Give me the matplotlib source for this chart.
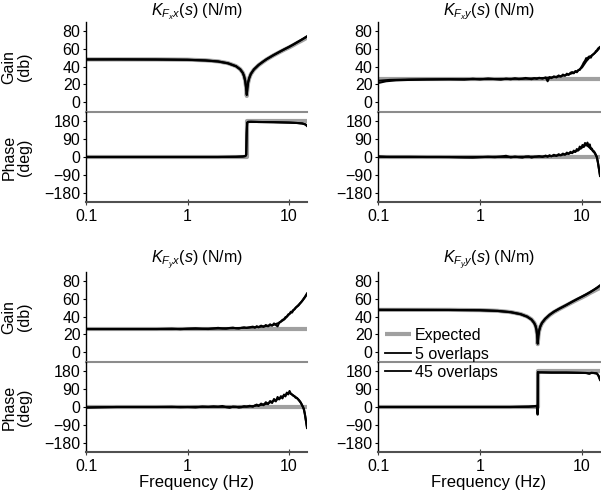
import matplotlib.pyplot as plt
from matplotlib.lines import Line2D
from matplotlib.ticker import NullLocator

plt.rcParams['font.family'] = ['Liberation Sans', 'DejaVu Sans']
plt.rcParams['mathtext.fontset'] = 'custom'
plt.rcParams['mathtext.rm'] = 'Liberation Sans'
plt.rcParams['mathtext.it'] = 'Liberation Sans:italic'
plt.rcParams['font.size'] = 11.5

# ---- K_FxFx : notch near 3.8 Hz ----
f_xx = [0.1, 0.2, 0.5, 1.0, 1.5, 2.0, 2.5, 3.0, 3.3, 3.5, 3.6, 3.7, 3.77, 3.83, 3.88,
        3.95, 4.05, 4.2, 4.5, 5.0, 5.5, 6.0, 7.0, 8.0, 9.0, 10.0, 11.0, 12.0, 13.0, 14.0, 15.0]
gain_xx_exp = [48, 48, 48, 47.7, 47, 45.8, 43.8, 40.5, 37, 33, 29.5, 24, 17, 7, 15,
               22, 27, 31.5, 36.5, 41.5, 45, 48, 52.5, 56, 59, 61.5, 64, 66.5, 68.5, 70.5, 72.5]
gain_xx_5 = [48, 48.1, 47.9, 47.6, 46.8, 45.7, 43.6, 40.3, 36.8, 32.8, 29.2, 23.5, 16, 8, 16,
             22.5, 27.2, 31.8, 36.8, 41.8, 45.3, 48.3, 52.8, 56.4, 59.5, 62.2, 64.8, 67.3, 69.6, 71.8, 74]
gain_xx_45 = [48, 48, 47.9, 47.6, 46.9, 45.7, 43.7, 40.4, 36.9, 32.9, 29.3, 23.7, 16.5, 9, 15.5,
              22.3, 27.1, 31.7, 36.7, 41.7, 45.2, 48.2, 52.7, 56.3, 59.4, 62, 64.6, 67.1, 69.4, 71.6, 73.6]
fp_xx = [0.1, 1.0, 2.0, 3.0, 3.5, 3.7, 3.78, 3.82, 3.86, 3.95, 4.2, 5.0, 7.0, 10.0, 12.0, 13.5, 14.5, 15.0]
phase_xx_5 = [0, 0, 0, 1, 3, 5, 12, 120, 172, 176, 176, 175, 174, 172, 170, 168, 162, 155]
phase_xx_45 = [0, 0, 0, 1, 2, 4, 10, 110, 170, 175, 176, 175, 174, 172, 170, 167, 163, 157]
fp_xx_exp = [0.1, 3.83, 3.83, 15.0]
phase_xx_exp = [0, 0, 180, 180]

# ---- K_FyFy : notch near 3.7 Hz ----
f_yy = [0.1, 0.2, 0.5, 1.0, 1.5, 2.0, 2.5, 2.9, 3.2, 3.4, 3.5, 3.58, 3.63, 3.68, 3.73,
        3.8, 3.9, 4.05, 4.35, 4.8, 5.3, 6.0, 7.0, 8.0, 9.0, 10.0, 11.0, 12.0, 13.0, 14.0, 15.0]
gain_yy_exp = [47.5, 47.5, 47.5, 47.2, 46.4, 45.0, 42.8, 40, 36.8, 33, 30, 25.5, 20, 9, 18,
               24, 28.5, 32.5, 37, 41.5, 45, 48.5, 52.5, 56, 59, 61.5, 64, 66.5, 68.5, 70.5, 72]
gain_yy_5 = [47.6, 47.5, 47.4, 47.1, 46.3, 44.9, 42.6, 39.8, 36.5, 32.6, 29.5, 25, 19, 9.5, 18.5,
             24.5, 29, 33, 37.5, 42, 45.5, 49, 53, 56.7, 59.8, 62.5, 65, 67.5, 70, 72.5, 75]
gain_yy_45 = [47.5, 47.5, 47.4, 47.1, 46.3, 44.9, 42.7, 39.9, 36.6, 32.7, 29.6, 25.2, 19.5, 10, 18.2,
              24.3, 28.8, 32.8, 37.3, 41.8, 45.3, 48.8, 52.8, 56.5, 59.6, 62.3, 64.8, 67.2, 69.7, 72, 74.5]
fp_yy = [0.1, 1.0, 2.0, 3.0, 3.4, 3.6, 3.66, 3.68, 3.69, 3.71, 3.75, 4.0, 5.0, 7.0, 9.0,
         11.0, 11.8, 12.3, 13.0, 14.0, 14.5, 15.0]
phase_yy_5 = [0, 0, 0, 2, 4, 6, -38, -38, 175, 174, 173, 173, 172, 172, 171, 170, 166, 171, 170, 168, 155, 135]
phase_yy_45 = [0, 0, 0, 1, 3, 5, -30, -30, 172, 174, 173, 173, 172, 172, 171, 170, 168, 170, 170, 167, 157, 140]
fp_yy_exp = [0.1, 3.68, 3.68, 15.0]
phase_yy_exp = [0, 0, 180, 180]

# ---- cross terms (noisy) ----
f_noisy = [0.1, 0.12, 0.15, 0.2, 0.3, 0.5, 0.7, 0.85, 1.0, 1.2, 1.4, 1.6, 1.8, 2.0, 2.2, 2.4, 2.6,
           2.8, 3.0, 3.2, 3.4, 3.6, 3.8, 4.1, 4.4, 4.6, 4.8, 5.0, 5.3, 5.6, 5.9, 6.2, 6.5, 6.8,
           7.1, 7.4, 7.7, 8.0, 8.3, 8.6, 8.9, 9.2, 9.5, 9.8, 10.1, 10.4, 10.7, 11.0, 11.3, 11.6,
           11.9, 12.2, 12.5, 12.8, 13.1, 13.4, 13.7, 14.0, 14.3, 14.6, 15.0]
gain_xy_5 = [21.5, 23.5, 24.5, 25, 25.5, 25.8, 25.4, 26.3, 25.6, 26.6,
             25.9, 25.3, 26.4, 25.7, 26.8, 25.9, 26.3, 27.2, 26.4, 25.8,
             26.9, 26.2, 27.4, 26.4, 27.8, 23.5, 28.2, 27.0, 29.0, 27.8,
             30.0, 28.6, 31.0, 29.6, 32.0, 30.6, 33.0, 33.8, 32.4, 35.0,
             33.6, 36.0, 36.2, 39.0, 41.5, 44.5, 46.5, 49.5, 48.0, 51.0,
             51.3, 50.0, 52.5, 53.5, 54.5, 55.5, 57.5, 58.0, 60.0, 61.0, 62.0]
phase_xy_5 = [3, 1, 1, 1, 0, 0, -2, -3, -1, 1,
              -1, 2, 6, -2, 2, -1, -3, 2, 3, -3,
              1, 2, 4, 0, 7, 1, 9, 3, 11, 5,
              14, 8, 17, 11, 22, 15, 26, 19, 32, 25,
              40, 33, 52, 43, 60, 50, 70, 58, 72, 54,
              63, 40, 42, 28, 28, 20, 10, -5, -25, -55, -95]
gain_yx_5 = [26, 26, 26, 26, 26, 26, 26.4, 25.8, 26.4, 26.8,
             26.2, 26.0, 26.7, 27.3, 26.6, 26.4, 27.2, 27.6, 26.8, 26.5,
             27.4, 27.9, 27.2, 28.0, 28.7, 27.4, 29.2, 27.9, 29.8, 28.4,
             30.5, 29.0, 31.3, 29.7, 32.3, 30.5, 29.0, 33.4, 34.5, 36.3,
             37.0, 39.3, 40.0, 42.4, 43.0, 45.4, 44.5, 47.4, 48.0, 50.0,
             51.0, 51.8, 53.0, 54.8, 56.0, 57.3, 59.0, 60.7, 62.0, 63.8, 66.0]
phase_yx_5 = [-3, -2, -1, 0, 0, 0, 1, -1, 0, -2,
              2, 0, 3, 1, 5, -1, -4, 2, 1, -3,
              -1, 4, 2, 6, 1, 8, 12, 5, 17, 9,
              24, 14, 30, 20, 40, 28, 50, 38, 54, 43,
              62, 53, 72, 63, 80, 66, 62, 56, 53, 46,
              45, 40, 35, 28, 20, 10, 0, -15, -35, -65, -105]
f_45 = [0.1, 0.13, 0.2, 0.4, 0.7, 1.0, 1.5, 2.0, 3.0, 4.0, 5.0, 6.0, 7.0, 8.0, 9.0, 10.0,
        11.0, 12.0, 13.0, 14.0, 15.0]
gain_xy_45 = [24, 25, 25.5, 25.7, 25.8, 25.9, 26, 26.2, 26.5, 27, 27.8, 29, 30.5, 32.5, 35, 39,
              46, 51, 54, 57.5, 61.5]
phase_xy_45 = [1, 0, 0, 0, -1, 0, 1, 0, 1, 2, 5, 9, 15, 22, 32, 48, 62, 45, 28, 0, -90]
gain_yx_45 = [26, 26, 26, 26, 26, 26.2, 26.4, 26.6, 27, 27.6, 28.4, 29.4, 30.6, 33, 37, 42.5,
              47, 51.5, 55.5, 60, 65]
phase_yx_45 = [-2, -1, 0, 0, 0, 0, 1, 1, 0, 2, 8, 16, 30, 42, 58, 72, 58, 44, 22, -10, -100]
f_flat = [0.1, 15.0]
gain_cross_exp = [26, 26]
phase_cross_exp = [0, 0]

W, H = 601, 498
fig = plt.figure(figsize=(W / 100, H / 100), dpi=100)

EXP = dict(color='#a0a0a0', lw=3.0, solid_capstyle='butt')
MEAS = dict(color='black', lw=1.5)


def px_axes(x0, y0, x1, y1):
    return fig.add_axes([x0 / W, 1 - y1 / H, (x1 - x0) / W, (y1 - y0) / H])


def style(ax, bottom_color):
    ax.set_xscale('log')
    ax.set_xlim(0.1, 15)
    ax.patch.set_alpha(0)
    ax.spines['top'].set_visible(False)
    ax.spines['right'].set_visible(False)
    ax.spines['left'].set_linewidth(1.0)
    ax.spines['bottom'].set_color(bottom_color)
    ax.spines['bottom'].set_linewidth(1.5)
    ax.xaxis.set_minor_locator(NullLocator())
    ax.tick_params(axis='y', direction='out', length=2.5, width=0.8, pad=1.5)
    ax.tick_params(axis='x', direction='inout', length=4, width=0.8, pad=3, color='#404040')


def panel(x0, x1, y0, title, ylabels, fg, g_exp, g5, g45, f_exp_g,
          fp, p5, p45, fp_exp, p_exp, fg45=None, fp45=None, xlabel=False):
    gax = px_axes(x0, y0, x1, y0 + 90)
    pax = px_axes(x0, y0 + 90, x1, y0 + 180)
    style(gax, '#8c8c8c')
    style(pax, '#505050')

    gax.plot(f_exp_g, g_exp, **EXP)
    gax.plot(fg, g5, **MEAS)
    gax.plot(fg45 if fg45 else fg, g45, **MEAS)
    gax.set_ylim(-11, 90)
    gax.set_yticks([0, 20, 40, 60, 80])
    gax.tick_params(axis='x', bottom=False, labelbottom=False)
    gax.set_title(title, pad=5, fontsize=11.5)

    pax.plot(fp_exp, p_exp, **EXP)
    pax.plot(fp, p5, **MEAS)
    pax.plot(fp45 if fp45 else fp, p45, **MEAS)
    pax.set_ylim(-225, 225)
    pax.set_yticks([-180, -90, 0, 90, 180])
    pax.set_xticks([0.1, 1, 10])
    pax.set_xticklabels(['0.1', '1', '10'])
    if xlabel:
        pax.set_xlabel('Frequency (Hz)', labelpad=1, fontsize=12)
    if ylabels:
        fig.text(17 / W, 1 - (y0 + 45) / H, 'Gain\n(db)', rotation=90,
                 ha='center', va='center', linespacing=1.05)
        fig.text(17 / W, 1 - (y0 + 135) / H, 'Phase\n(deg)', rotation=90,
                 ha='center', va='center', linespacing=1.05)
    return gax, pax


L0, L1 = 86, 307
R0, R1 = 378, 600

panel(L0, L1, 22, r'$K_{F_x x}(s)$ (N/m)', True,
      f_xx, gain_xx_exp, gain_xx_5, gain_xx_45, f_xx,
      fp_xx, phase_xx_5, phase_xx_45, fp_xx_exp, phase_xx_exp)
panel(R0, R1, 22, r'$K_{F_x y}(s)$ (N/m)', False,
      f_noisy, gain_cross_exp, gain_xy_5, gain_xy_45, f_flat,
      f_noisy, phase_xy_5, phase_xy_45, f_flat, phase_cross_exp, fg45=f_45, fp45=f_45)
panel(L0, L1, 272, r'$K_{F_y x}(s)$ (N/m)', True,
      f_noisy, gain_cross_exp, gain_yx_5, gain_yx_45, f_flat,
      f_noisy, phase_yx_5, phase_yx_45, f_flat, phase_cross_exp, fg45=f_45, fp45=f_45, xlabel=True)
panel(R0, R1, 272, r'$K_{F_y y}(s)$ (N/m)', False,
      f_yy, gain_yy_exp, gain_yy_5, gain_yy_45, f_yy,
      fp_yy, phase_yy_5, phase_yy_45, fp_yy_exp, phase_yy_exp, xlabel=True)

handles = [Line2D([], [], **EXP), Line2D([], [], color='black', lw=1.3),
           Line2D([], [], color='black', lw=1.3)]
fig.legend(handles, ['Expected', '5 overlaps', '45 overlaps'], loc='upper left',
           bbox_to_anchor=(385 / W, 1 - 328 / H), frameon=False, handlelength=1.6,
           handletextpad=0.25, labelspacing=0.22, borderpad=0, borderaxespad=0)

fig.savefig('out.png', dpi=100)
